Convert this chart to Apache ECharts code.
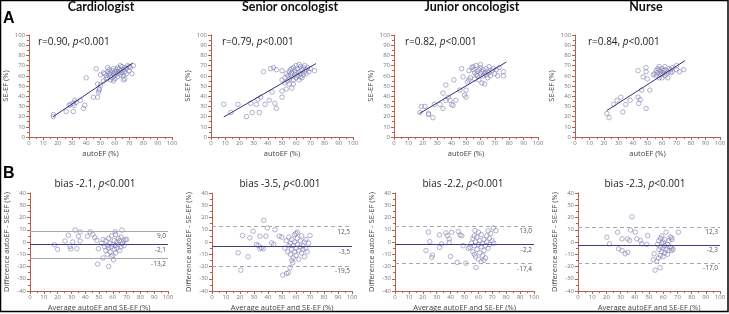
<!DOCTYPE html>
<html><head><meta charset="utf-8">
<script src="https://cdn.jsdelivr.net/npm/echarts@6/dist/echarts.min.js"></script>
<style>html,body{margin:0;padding:0;background:#fff}#chart{width:729px;height:314px}</style>
</head><body><div id="chart"></div>
<script>
// raters and summary statistics
const raters = ['Cardiologist', 'Senior oncologist', 'Junior oncologist', 'Nurse'];
const corrR = ['0.90', '0.79', '0.82', '0.84'];
const biasText = ['-2.1', '-3.5', '-2.2', '-2.3'];
const meanDiff = [-2.1, -3.5, -2.2, -2.3];
const loaUpper = [9.0, 12.5, 13.0, 12.3];
const loaLower = [-13.2, -19.5, -17.4, -17.0];
const loaLabels = [['9,0', '-2,1', '-13,2'], ['12,5', '-3,5', '-19,5'], ['13,0', '-2,2', '-17,4'], ['12,3', '-2,3', '-17,0']];
const regLines = [[[17, 20], [72.5, 72.5]], [[9, 19.6], [74, 72]], [[17.6, 23], [78, 73.5]], [[22, 26], [76, 75]]];

// autoEF vs SE-EF
const corrCardio = [[17,22],[17,20],[26,25],[31,25],[28,31],[29,32],[31,33],[32,36],[31.5,31],[33,34],[36,36],[38,28],[39,31],[40,58],[45,39],[47,67],[48,39],[48.6,44],[49,46],[49.3,47],[48,52],[50,51],[50,61],[52,55],[54,57],
  [53,62],[54,60],[55,58],[55,64],[56,62],[56,66],[57,60],[57,63],[58,65],[58,58],[59,62],[59,67],[60,64],[60,60],[61,66],[61,62],[62,68],[62,64],[62,59],[63,63],[63,67],[64,65],[64,61],[65,69],[65,63],[66,66],[66,60],[67,68],[67,64],[68,67],[68,62],[69,70],[70,65],[70,69],[71,68],[72,62],[59,55],[60,57],[57,56],[66,56],[67,57],[55,68],[52,63],[64,70],[73,70]];
const corrSenior = [[9,32],[14,24],[19,32],[25,20],[29,24],[28,33],[32,32],[34,24],[33,37],[35,39],[37,64],[38,32],[41,36],[42,67],[44,68],[46,66],[43,44],[45,33],[46,28],[50,39],[50,45],[50,65],[50,56],[53,47],[57,48],[58,52],[73,65],
  [52,58],[53,62],[54,55],[54,60],[55,64],[55,57],[56,61],[56,66],[57,59],[57,63],[58,68],[58,56],[59,61],[59,65],[60,63],[60,58],[60,70],[61,67],[61,60],[62,64],[62,56],[63,69],[63,62],[64,66],[64,58],[65,68],[65,61],[66,64],[66,70],[67,66],[67,62],[68,68],[69,64],[70,67],[52,53],[55,52],[62,71],[57,67],[63,59]];
const corrJunior = [[18,24],[19,30],[21.5,30],[24,23],[24,22],[27,19],[28,32],[32,32],[34,28],[34,43],[36,51],[36,36],[37.6,39],[39,36],[40,32],[41,31],[41.6,56],[43,36],[45.7,46],[47,67],[48,59],[49,41],[50,39],[50,46],[51,54],[52,65],[76,64],[76,60],
  [52,56],[53,58],[54,68],[55,69],[55,66],[56,57],[57,61],[57,70],[58,64],[58,60],[59,66],[59,56],[60,62],[60,68],[61,53],[61,64],[62,60],[62,66],[63,52],[63,63],[64,67],[64,61],[65,64],[65,58],[66,69],[66,63],[67,60],[68,65],[69,67],[70,62],[71,66],[72,60],[73,68],[60,71],[56,63]];
const corrNurse = [[22,23],[23.5,19],[26.7,32],[29,36],[31.6,39],[33,24.5],[35,32],[38,36],[43.5,65],[43.5,39],[44,33],[45,36.6],[46,46],[47,59],[49,68],[49,64],[49.8,57],[49,28],[51.6,46],[75,66],
  [55,62],[56,65],[56,60],[57,67],[57,63],[58,58],[58,66],[59,64],[59,61],[60,67],[60,62],[60,58],[61,65],[61,63],[62,60],[62,66],[63,62],[64,64],[64,58],[65,67],[66,63],[66,66],[67,64],[67,68],[58,69],[62,69],[54,61],[70,66],[70,70],[72,64]];

// Bland-Altman: average vs difference
const baCardio = [[17.7,-2.2],[20,-6],[25.4,0.8],[27.8,5.5],[29,-3.6],[29.5,-5.5],[31,0],[32.7,9.7],[33.9,-5.5],[35,4.7],[36.3,8.3],[36.3,0.8],[41.6,4.7],[43.6,8.3],[45.5,6.3],[47,3.6],[48.4,1.4],[49.6,-5.5],[49,-18],[57,-20],[61.7,8.3],[66.6,9.7],[60.5,-14.6],
  [52,-1],[53,2],[54,-4],[55,-7],[55,1],[56,-3],[56,-10],[57,-5],[57,3],[58,-1],[58,-8],[59,-4],[59,5],[60,-2],[60,-11],[61,1],[61,-6],[62,-3],[62,-9],[63,0],[63,-5],[64,3],[64,-2],[65,-7],[65,1],[66,-4],[66,4],[67,-1],[68,-3],[68,1],[69,2],[70,2],[59,-12],[62,6],[53,-13]];
const baSenior = [[18.7,-8.8],[20.6,-23],[21.8,5.3],[25.8,-12],[27,3.4],[29.4,8.8],[31.8,-2],[33,-2.8],[34.2,-5.6],[35.4,-4.7],[36.6,-5.6],[34.2,4.7],[37,17.7],[38.5,4.7],[39.5,11.5],[42.6,-0.7],[44,-2],[45,10],[48,4.7],[49.8,4],[50.5,-27],[53.3,-25.7],[54.5,-25],[55.7,-21],[57.7,-17],[70,5.3],
  [52,-5],[53,1],[54,-8],[55,-3],[55,4],[56,-10],[56,-1],[57,-6],[57,2],[58,-13],[58,-3],[59,-8],[59,0],[59,6],[60,-5],[60,-11],[61,-2],[61,3],[62,-7],[62,-14],[63,-4],[63,1],[64,-9],[64,5],[65,-3],[65,-6],[66,0],[66,-12],[67,2],[67,-5],[68,-8],[69,-1],[57,-15],[61,8],[60,7]];
const baJunior = [[22.3,-7],[24,8],[25,0.3],[26.4,-12.6],[27,-10.7],[32,5.8],[32,-4.4],[33.6,-1.6],[36.7,7.4],[37.6,5.2],[39,2.5],[39,-0.3],[40.8,8],[40,-11.8],[45.5,8.5],[44.8,-16.7],[46.8,5.8],[48,5.2],[49,-3],[51,-17.3],[52.8,-5.2],[54,-4.4],[57.5,9.3],[58.3,-20.8],[70.7,11.5],[72.6,9.3],
  [55,-1],[56,3],[56,-8],[57,-3],[57,5],[58,-12],[58,0],[59,-6],[59,4],[60,-2],[60,-14],[61,1],[61,-9],[62,-4],[62,6],[63,-11],[63,-1],[64,2],[64,-7],[65,-3],[65,-13],[66,5],[66,0],[67,-5],[67,9],[68,-2],[68,3],[69,7],[70,1],[71,-1],[64,-15],[60,8],[62,-16],[57,-10]];
const baNurse = [[20.4,3.9],[22.2,-1.5],[27.9,8],[28.6,-5.6],[31,-7],[33.3,-9.6],[35,-8.4],[31,2.6],[35,2.6],[36.3,1.2],[38,20.5],[37,9.8],[40.3,8],[41.5,2.6],[45,-1.5],[44,1.2],[48.5,-2],[49,5.2],[53.6,-9.6],[53,-14.5],[54.3,-23],[55.5,-15.7],[56.7,-13],[57.8,-21],[70.7,8],
  [56,-2],[57,1],[57,-6],[58,3],[58,-4],[59,-1],[59,5],[59,-8],[60,0],[60,-5],[61,2],[61,-9],[61,-3],[62,-6],[62,8],[63,-2],[63,-10],[64,1],[64,-7],[65,-4],[65,4],[66,-5],[66,2],[67,-6],[58,-11],[60,-12],[66,3.4],[66,-7]];

const corrSets = [corrCardio, corrSenior, corrJunior, corrNurse];
const baSets = [baCardio, baSenior, baJunior, baNurse];

const chart = echarts.init(document.getElementById('chart'));

const axisRed = '#bb5f4c';
const dotColor = '#8585b5';
const font = 'Open Sans';

const gridsA = [[29, 143], [211, 142], [394, 144], [575, 145]];
const gridsB = [[30, 138], [212, 140], [395, 139], [578, 142]];
const headX = [101, 290, 472, 646];
const rX = [38, 222, 405, 588];
const biasX = [95, 280, 463, 645];

const grid = [], xAxis = [], yAxis = [], series = [], title = [];

function valAxis(i, min, max, interval, name, gap, isY) {
  return {
    type: 'value', gridIndex: i, min: min, max: max, interval: interval,
    name: name, nameLocation: 'middle', nameGap: gap,
    nameTextStyle: { fontFamily: font, fontSize: 7.5, color: '#444' },
    axisLine: { show: true, onZero: false, lineStyle: { color: axisRed, width: 1 } },
    axisTick: { show: true, length: 3, lineStyle: { color: axisRed } },
    minorTick: { show: true, splitNumber: 2, length: 2, lineStyle: { color: axisRed } },
    axisLabel: { fontFamily: font, fontSize: 6, color: '#777', margin: isY ? 4 : 3 },
    splitLine: { show: false }
  };
}

const rich = {
  n: { fontFamily: font, fontSize: 10, fontWeight: 'normal', color: '#222' },
  i: { fontFamily: font, fontSize: 10, fontWeight: 'normal', fontStyle: 'italic', color: '#222' }
};

raters.forEach((r, k) => {
  const ia = 2 * k, ib = 2 * k + 1;
  // correlation panel
  grid.push({ left: gridsA[k][0], width: gridsA[k][1], top: 35, height: 102 });
  xAxis.push(valAxis(ia, 0, 100, 10, 'autoEF (%)', 13, false));
  yAxis.push(valAxis(ia, 0, 100, 10, 'SE-EF (%)', 19, true));
  series.push({
    type: 'scatter', xAxisIndex: ia, yAxisIndex: ia, data: corrSets[k],
    symbol: 'circle', symbolSize: 4.5, itemStyle: { color: 'transparent', borderColor: dotColor, borderWidth: 0.8 },
    silent: true
  });
  series.push({
    type: 'line', xAxisIndex: ia, yAxisIndex: ia, data: regLines[k], symbol: 'none',
    lineStyle: { color: '#30307a', width: 1 }, silent: true, z: 3
  });

  // Bland-Altman panel
  grid.push({ left: gridsB[k][0], width: gridsB[k][1], top: 193, height: 98 });
  xAxis.push(valAxis(ib, 0, 100, 10, 'Average autoEF and SE-EF (%)', 13, false));
  yAxis.push(valAxis(ib, -40, 40, 10, 'Difference autoEF - SE-EF (%)', 19, true));
  const dash = k === 0 ? 'solid' : [4, 3];
  const lab = (s) => ({ show: true, position: 'insideEndBottom', formatter: s, fontFamily: font, fontSize: 6.5, color: '#555', distance: 2 });
  series.push({
    type: 'scatter', xAxisIndex: ib, yAxisIndex: ib, data: baSets[k],
    symbol: 'circle', symbolSize: 4.5, itemStyle: { color: 'transparent', borderColor: dotColor, borderWidth: 0.8 },
    silent: true,
    markLine: {
      silent: true, symbol: 'none', animation: false,
      data: [
        { yAxis: loaUpper[k], lineStyle: { color: '#a8a8a8', type: dash, width: 1 }, label: lab(loaLabels[k][0]) },
        { yAxis: meanDiff[k], lineStyle: { color: '#3c3c8a', type: 'solid', width: 1 }, label: lab(loaLabels[k][1]) },
        { yAxis: loaLower[k], lineStyle: { color: '#a8a8a8', type: dash, width: 1 }, label: lab(loaLabels[k][2]) }
      ]
    }
  });

  title.push({ text: r, left: headX[k], top: 0, textAlign: 'center', padding: 0,
    textStyle: { fontFamily: 'Lato', fontWeight: 'bold', fontSize: 12.5, color: '#111' } });
  title.push({ text: '{n|r=' + corrR[k] + ', }{i|p}{n|<0.001}', left: rX[k], top: 37, padding: 0,
    textStyle: { fontWeight: 'normal', rich: rich } });
  title.push({ text: '{n|bias ' + biasText[k] + ', }{i|p}{n|<0.001}', left: biasX[k], top: 179, textAlign: 'center', padding: 0,
    textStyle: { fontWeight: 'normal', rich: rich } });
});

title.push({ text: 'A', left: 3, top: 11, padding: 0, textStyle: { fontFamily: 'Liberation Sans', fontWeight: 'bold', fontSize: 16, color: '#000' } });
title.push({ text: 'B', left: 3, top: 166, padding: 0, textStyle: { fontFamily: 'Liberation Sans', fontWeight: 'bold', fontSize: 16, color: '#000' } });

chart.setOption({
  animation: false,
  title: title,
  grid: grid,
  xAxis: xAxis,
  yAxis: yAxis,
  series: series,
  graphic: [{ type: 'rect', shape: { x: 0.5, y: 0.5, width: 727.5, height: 311 }, style: { fill: 'none', stroke: '#000', lineWidth: 1.5 }, silent: true }]
});
</script>
</body></html>
